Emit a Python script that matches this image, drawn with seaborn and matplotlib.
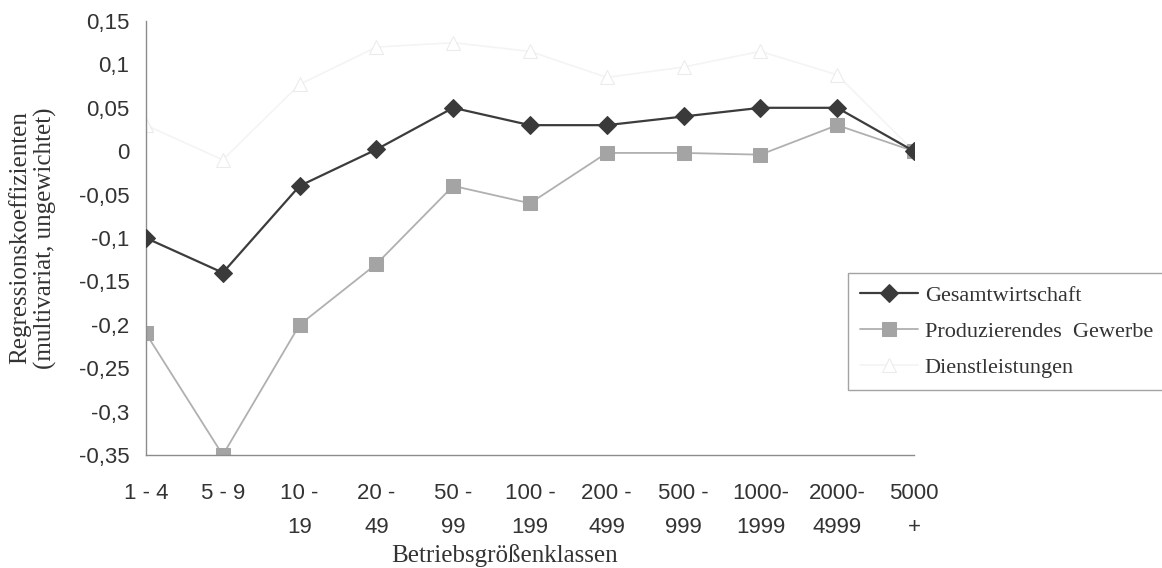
import matplotlib
matplotlib.use("Agg")
import matplotlib.pyplot as plt
import seaborn as sns
import pandas as pd
from matplotlib.ticker import FixedLocator, FuncFormatter

# size classes (x categories)
classes = ["1 - 4", "5 - 9", "10 -\n19", "20 -\n49", "50 -\n99", "100 -\n199",
           "200 -\n499", "500 -\n999", "1000-\n1999", "2000-\n4999", "5000\n+"]

# regression coefficients
gesamt = [-0.10, -0.14, -0.04, 0.002, 0.05, 0.03, 0.03, 0.04, 0.05, 0.05, 0.0]
produz = [-0.21, -0.35, -0.20, -0.13, -0.04, -0.06, -0.002, -0.002, -0.004, 0.03, 0.0]
dienst = [0.03, -0.01, 0.077, 0.12, 0.125, 0.115, 0.085, 0.097, 0.115, 0.088, 0.0]

y_ticks = [-0.35, -0.3, -0.25, -0.2, -0.15, -0.1, -0.05, 0, 0.05, 0.1, 0.15]

sns.set_style("white")
plt.rcParams['font.family'] = ['Liberation Sans', 'DejaVu Sans']
plt.rcParams['axes.unicode_minus'] = False

fig = plt.figure(figsize=(11.62, 5.68), dpi=100)
ax = fig.add_axes([146/1162, 1-455/568, (914-146)/1162, (455-21)/568])

pos = list(range(len(classes)))
df = pd.DataFrame({'pos': pos, 'Gesamtwirtschaft': gesamt,
                   'Produzierendes  Gewerbe': produz, 'Dienstleistungen': dienst})

# the services series is printed almost white in the original
sns.lineplot(data=df, x='pos', y='Dienstleistungen', ax=ax, color='#f4f4f4', linewidth=1.2,
             marker='^', markersize=10, markerfacecolor='white', markeredgecolor='#ebebeb',
             label='Dienstleistungen', legend=False, zorder=1)
sns.lineplot(data=df, x='pos', y='Produzierendes  Gewerbe', ax=ax, color='#b0b0b0', linewidth=1.3,
             marker='s', markersize=10, markerfacecolor='#a4a4a4', markeredgecolor='#a4a4a4',
             label='Produzierendes  Gewerbe', legend=False, zorder=2)
sns.lineplot(data=df, x='pos', y='Gesamtwirtschaft', ax=ax, color='#3c3c3c', linewidth=1.6,
             marker='D', markersize=9, markerfacecolor='#3a3a3a', markeredgecolor='#3a3a3a',
             label='Gesamtwirtschaft', legend=False, zorder=3)

ax.set_xlim(0, len(classes) - 1)
ax.set_ylim(-0.35, 0.15)
ax.xaxis.set_major_locator(FixedLocator(pos))
ax.set_xticklabels(classes, linespacing=1.8)
ax.yaxis.set_major_locator(FixedLocator(y_ticks))
ax.yaxis.set_major_formatter(FuncFormatter(lambda v, p: ('%g' % round(v, 2)).replace('.', ',')))
ax.set_xlabel('')
ax.set_ylabel('')

for s in ['top', 'right']:
    ax.spines[s].set_visible(False)
for s in ['left', 'bottom']:
    ax.spines[s].set_color('#8c8c8c')
    ax.spines[s].set_linewidth(1)
ax.tick_params(axis='both', direction='inout', length=12, width=1, color='#8c8c8c',
               labelsize=16, labelcolor='#333333')
ax.tick_params(axis='x', pad=14)
ax.tick_params(axis='y', pad=6)

serif = ['Liberation Serif', 'DejaVu Serif']
fig.text(33/1162, 1-238/568, 'Regressionskoeffizienten\n(multivariat, ungewichtet)',
         rotation=90, ha='center', va='center', fontsize=18, family=serif,
         color='#333333', linespacing=1.15)
fig.text(505/1162, 1-556/568, 'Betriebsgrößenklassen', ha='center', va='center',
         fontsize=18, family=serif, color='#333333')

handles, labels = ax.get_legend_handles_labels()
order = ['Gesamtwirtschaft', 'Produzierendes  Gewerbe', 'Dienstleistungen']
hmap = dict(zip(labels, handles))
leg = fig.legend([hmap[k] for k in order], order, loc='upper left',
                 bbox_to_anchor=(848/1162, 1-273/568), frameon=True, fancybox=False,
                 prop={'family': serif, 'size': 16}, handlelength=2.6, handletextpad=0.3,
                 borderpad=0.55, labelspacing=0.7, borderaxespad=0, numpoints=1)
leg.get_frame().set_edgecolor('#8c8c8c')
leg.get_frame().set_linewidth(1)
for t in leg.get_texts():
    t.set_color('#333333')

fig.savefig('out.png', dpi=100)
